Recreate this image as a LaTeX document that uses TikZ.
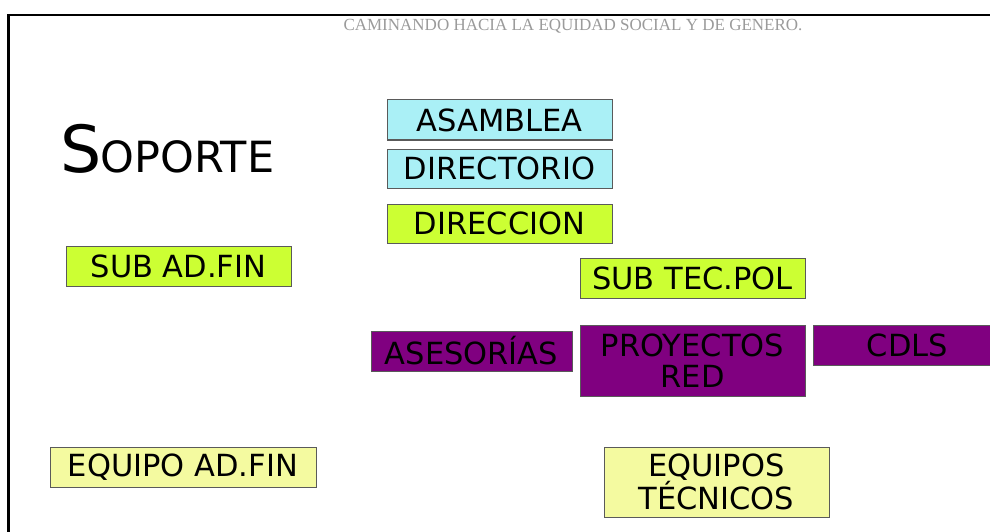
\documentclass[tikz,border=0pt]{standalone}
\usepackage{fontspec}
\setmainfont{DejaVu Sans}
\newfontfamily\headfont{Liberation Serif}
\definecolor{cyanbox}{RGB}{170,240,246}
\definecolor{limebox}{RGB}{204,255,51}
\definecolor{purplebox}{RGB}{128,0,128}
\definecolor{paleyellow}{RGB}{244,250,160}
\definecolor{boxedge}{RGB}{90,90,90}
\definecolor{headgrey}{RGB}{155,155,155}
\begin{document}
\begin{tikzpicture}[x=1pt,y=-1pt,
  orgbox/.style={draw=boxedge, line width=1pt, anchor=north west, inner sep=0pt, outer sep=0pt,
    align=center, font=\fontsize{30.5}{31}\selectfont, text=black},
  cyanfill/.style={orgbox, fill=cyanbox},
  limefill/.style={orgbox, fill=limebox},
  purplefill/.style={orgbox, fill=purplebox},
  palefill/.style={orgbox, fill=paleyellow}]
\useasboundingbox (0,0) rectangle (990,532);
\fill[white] (0,0) rectangle (990,532);
\begin{scope}
\clip (0,0) rectangle (990,532);
\draw[line width=2.5pt] (8.5,532) -- (8.5,15) -- (992,15);
\node[anchor=base, text=headgrey, font=\headfont\fontsize{17}{18}\selectfont] (head) at (573,31) {CAMINANDO HACIA LA EQUIDAD SOCIAL Y DE GENERO.};
\node[anchor=base west, inner sep=0pt] (soporte) at (60,172) {\fontsize{65}{66}\selectfont S\kern-1pt\fontsize{43}{44}\selectfont OPORTE};
\node[cyanfill, minimum width=225pt, minimum height=40pt] (asamblea) at (387,100) {ASAMBLEA};
\node[cyanfill, minimum width=225pt, minimum height=39pt] (directorio) at (387,149) {DIRECTORIO};
\node[limefill, minimum width=225pt, minimum height=39pt] (direccion) at (387,204) {DIRECCION};
\node[limefill, minimum width=225pt, minimum height=40pt] (subadfin) at (66,246) {SUB AD.FIN};
\node[limefill, minimum width=225pt, minimum height=40pt] (subtecpol) at (580,258) {SUB TEC.POL};
\node[purplefill, minimum width=201pt, minimum height=40pt] (asesorias) at (371,331) {ASESORÍAS};
\node[purplefill, minimum width=225pt, minimum height=71pt, font=\fontsize{30.5}{31.5}\selectfont] (proyectos) at (580,325) {PROYECTOS\\RED};
\node[purplefill, minimum width=189pt, minimum height=40pt] (cdls) at (813,325) {CDLS};
\node[palefill, minimum width=266pt, minimum height=40pt] (equipoadfin) at (50,447) {EQUIPO AD.FIN};
\node[palefill, minimum width=225pt, minimum height=70pt] (equipostec) at (604,447) {EQUIPOS\\TÉCNICOS};
\end{scope}
\end{tikzpicture}
\end{document}
